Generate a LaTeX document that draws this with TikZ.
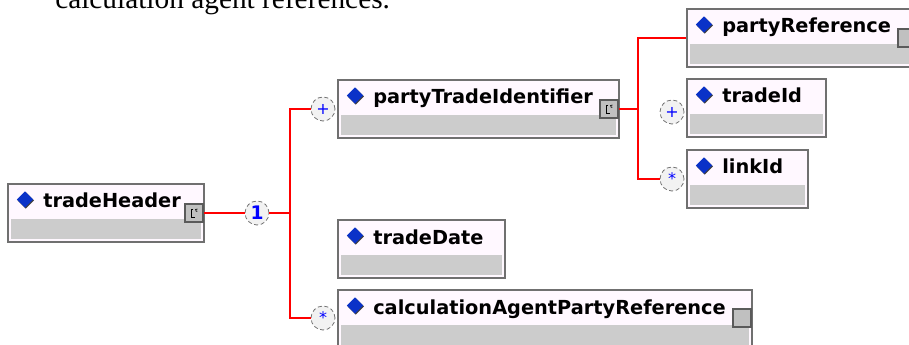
\documentclass[tikz,border=0pt]{standalone}
\usepackage{fontspec}
\setmainfont{Liberation Serif}
\newfontfamily\elemfont{DejaVu Sans}
\usetikzlibrary{shapes.geometric,shadows}

\definecolor{boxline}{HTML}{707070}
\definecolor{boxtop}{HTML}{FFF8FF}
\definecolor{boxbar}{HTML}{CCCCCC}
\definecolor{iconfill}{HTML}{C0C0C0}
\definecolor{iconline}{HTML}{5A5A5A}
\definecolor{markblue}{HTML}{0A32C8}
\definecolor{wirered}{HTML}{FF0000}
\definecolor{compfill}{HTML}{F2F2F2}

\tikzset{
  elem/.style={rectangle, anchor=north west, inner sep=0pt, minimum height=43.5pt,
    draw=boxline, line width=1.3pt, fill=boxtop,
    path picture={\fill[boxbar] ([shift={(2pt,2pt)}]path picture bounding box.south west)
      rectangle ([shift={(-2pt,17pt)}]path picture bounding box.south east);}},
  diamark/.style={diamond, inner sep=0pt, minimum width=12.5pt, minimum height=12.5pt,
    fill=markblue, general shadow={fill=black!75, shadow xshift=0.6pt, shadow yshift=-0.7pt}},
  elemlabel/.style={anchor=base west, inner sep=0pt,
    font=\elemfont\bfseries\fontsize{14.5}{16}\selectfont},
  plainicon/.style={rectangle, inner sep=0pt, minimum size=13.5pt, draw=iconline,
    line width=0.8pt, fill=iconfill},
  cplx/.style={plainicon,
    path picture={\draw[black, line width=0.6pt]
      ([shift={(-0.5pt,2.5pt)}]path picture bounding box.center) -- ++(-1.5pt,0)
      -- ++(0,-5.5pt) -- ++(3pt,0);
      \draw[black, line width=0.5pt]
      ([shift={(2.6pt,3pt)}]path picture bounding box.center) arc (60:300:1pt);}},
  comp/.style={circle, inner sep=0pt, minimum size=18pt, draw=black!55,
    densely dashed, line width=0.6pt, fill=compfill, text=blue,
    font=\elemfont\fontsize{12}{12}\selectfont},
  wire/.style={draw=wirered, line width=1.2pt},
}

\newcommand{\elembox}[5]{%
  \node[elem, minimum width=#4*0.75pt] (#1) at (#2,#3) {};
  \node[diamark] (#1-mark) at (#2+18,#3+16.5) {};
  \node[elemlabel] (#1-label) at (#2+36,#3+25) {#5};}

\begin{document}
\begin{tikzpicture}[x=0.75pt, y=-0.75pt]
\useasboundingbox (0,0) rectangle (909,345);
\node[anchor=base west, inner sep=0pt, font=\fontsize{22}{26}\selectfont]
  (intro) at (55,8.5) {calculation agent references.};
% elements
\elembox{th}{7}{183}{196}{tradeHeader}
\elembox{pti}{337}{79}{281}{partyTradeIdentifier}
\elembox{pref}{686}{8}{230}{partyReference}
\elembox{tid}{686}{78}{139}{tradeId}
\elembox{lid}{686}{149}{121}{linkId}
\elembox{tdate}{337}{219}{167}{tradeDate}
\elembox{calc}{337}{289}{414}{calculationAgentPartyReference}
% type icons
\node[cplx] (th-ico) at (194,213) {};
\node[cplx] (pti-ico) at (609,109) {};
\node[plainicon] (pref-ico) at (907,38) {};
\node[plainicon] (calc-ico) at (742,318) {};
% compositors
\node[comp, font=\elemfont\bfseries\fontsize{14}{14}\selectfont] (seq) at (257,213) {1};
\node[comp] (pti-c) at (323,109) {+};
\node[comp] (tid-c) at (672,112) {+};
\node[comp] (lid-c) at (672,179) {*};
\node[comp] (calc-c) at (323,318) {*};
% connectors
\coordinate (bus) at (290,213);
\coordinate (subbus) at (638,109);
\draw[wire] (th-ico.east) -- (seq.west);
\draw[wire] (seq.east) -- (bus);
\draw[wire] (pti-c.west) -- (pti-c.west -| bus) -- (calc-c.west -| bus) -- (calc-c.west);
\draw[wire] (pti-ico.east) -- (subbus);
\draw[wire] (pref.west) -- (pref.west -| subbus) -- (lid-c.west -| subbus) -- (lid-c.west);
\end{tikzpicture}
\end{document}
